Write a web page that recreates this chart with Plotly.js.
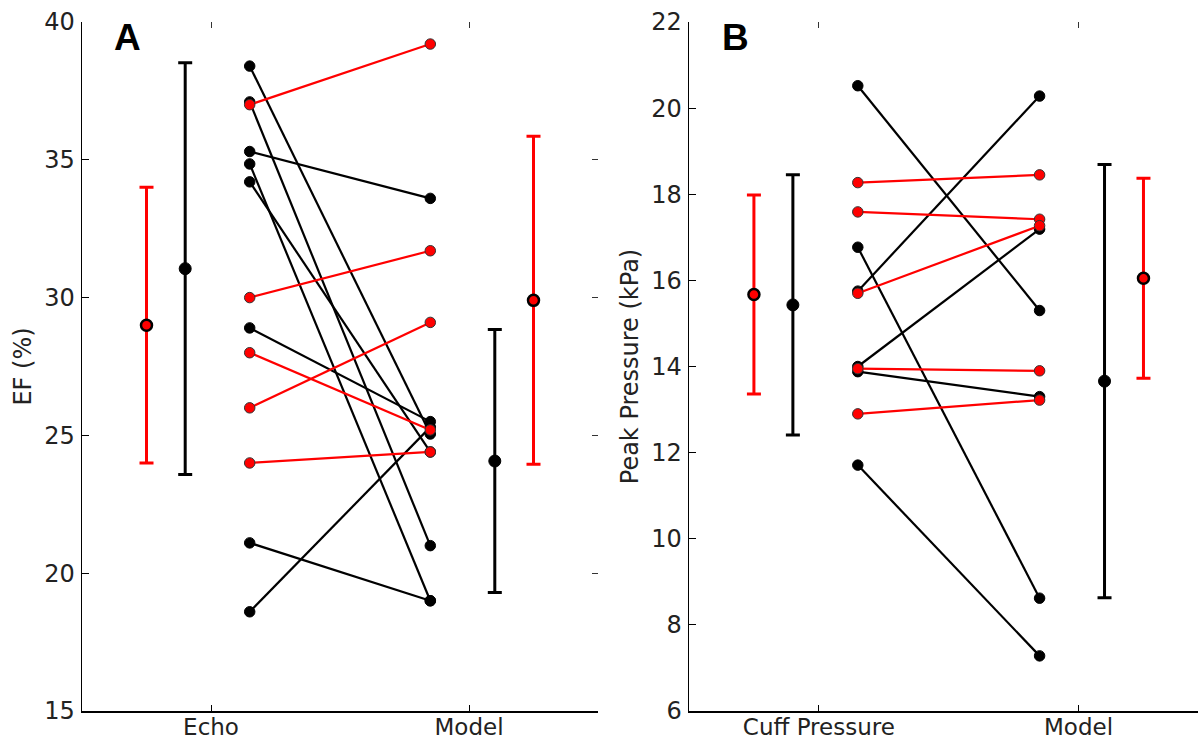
<!DOCTYPE html>
<html><head><meta charset="utf-8">
<script src="https://cdn.plot.ly/plotly-3.0.1.min.js"></script>
<style>html,body{margin:0;padding:0;background:#fff}#chart{width:1198px;height:740px}</style>
</head><body><div id="chart"></div>
<script>
// ---------- Panel A : EF (%) ----------
const categoriesA = ['Echo', 'Model'];
const echoRed     = [37.0, 30.0, 28.0, 26.0, 24.0];
const modelRedA   = [39.2, 31.7, 25.2, 29.1, 24.4];
const echoBlack   = [38.4, 37.1, 35.3, 34.85, 34.2, 28.9, 21.1, 18.6];
const modelBlackA = [25.05, 21.0, 33.6, 19.0, 24.4, 25.5, 19.0, 25.3];
const redMeanA    = [29.0, 29.9];   // Echo, Model
const redErrA     = [5.0, 5.95];
const blackMeanA  = [31.05, 24.07]; // Echo, Model
const blackErrA   = [7.47, 4.77];
const yTicksA     = [15, 20, 25, 30, 35, 40];

// ---------- Panel B : Peak Pressure (kPa) ----------
const categoriesB = ['Cuff Pressure', 'Model'];
const cuffRed     = [18.27, 17.59, 15.70, 13.95, 12.9];
const modelRedB   = [18.45, 17.42, 17.27, 13.90, 13.22];
const cuffBlack   = [20.52, 16.77, 15.75, 14.0, 13.88, 11.71];
const modelBlackB = [15.30, 8.62, 20.28, 17.19, 13.30, 7.28];
const redMeanB    = [15.67, 16.05];
const redErrB     = [2.31, 2.32];
const blackMeanB  = [15.43, 13.66];
const blackErrB   = [3.02, 5.03];
const yTicksB     = [6, 8, 10, 12, 14, 16, 18, 20, 22];

// ---------- geometry / style ----------
const X_LEFT = 1.15, X_RIGHT = 1.85;      // paired points
const X_RED = [0.75, 2.25], X_BLACK = [0.9, 2.1]; // summary bars
const RED = '#ff0000', BLACK = '#000000';
const TICKFONT = {family: 'DejaVu Sans', size: 24, color: '#222'};
const XTICKFONT = {family: 'DejaVu Sans', size: 23, color: '#222'};

const traces = [];
function pairs(a, b, color, xa, ya, isRed) {
  for (let i = 0; i < a.length; i++) {
    traces.push({
      type: 'scatter', mode: 'lines+markers', xaxis: xa, yaxis: ya,
      x: [X_LEFT, X_RIGHT], y: [a[i], b[i]],
      line: {color: color, width: 2.2},
      marker: {size: 10.5, color: color, line: {color: isRed ? '#333' : BLACK, width: 1}},
      showlegend: false, hoverinfo: 'y'
    });
  }
}
function summary(xs, means, errs, isRed, xa, ya) {
  traces.push({
    type: 'scatter', mode: 'markers', xaxis: xa, yaxis: ya,
    x: xs, y: means,
    error_y: {type: 'data', array: errs, visible: true, color: isRed ? RED : BLACK, thickness: 3, width: 7},
    marker: isRed ? {size: 11, color: RED, line: {color: BLACK, width: 2.5}}
                  : {size: 12, color: BLACK, line: {color: BLACK, width: 1}},
    showlegend: false, hoverinfo: 'y'
  });
}

// Panel A
pairs(echoBlack, modelBlackA, BLACK, 'x', 'y', false);
pairs(echoRed, modelRedA, RED, 'x', 'y', true);
summary(X_RED, redMeanA, redErrA, true, 'x', 'y');
summary(X_BLACK, blackMeanA, blackErrA, false, 'x', 'y');
// Panel B
pairs(cuffBlack, modelBlackB, BLACK, 'x2', 'y2', false);
pairs(cuffRed, modelRedB, RED, 'x2', 'y2', true);
summary(X_RED, redMeanB, redErrB, true, 'x2', 'y2');
summary(X_BLACK, blackMeanB, blackErrB, false, 'x2', 'y2');
// carriers for mirrored tick axes (invisible)
traces.push({type: 'scatter', mode: 'markers', xaxis: 'x3', yaxis: 'y3', x: [1], y: [30], marker: {opacity: 0}, hoverinfo: 'skip', showlegend: false});
traces.push({type: 'scatter', mode: 'markers', xaxis: 'x4', yaxis: 'y2', x: [1], y: [14], marker: {opacity: 0}, hoverinfo: 'skip', showlegend: false});

const W = 1198, H = 740;
const rangeA = [0.5, 2.5];
const rangeB = [0.5, 0.5 + 509 / 259.7];
const domA = [82 / W, 598 / W];
const domB = [689 / W, 1];

const baseX = {
  showgrid: false, zeroline: false, showline: true, linecolor: BLACK, linewidth: 1.5,
  ticks: 'inside', ticklen: 6, tickwidth: 1, tickcolor: BLACK,
  tickvals: [1, 2], tickfont: XTICKFONT, ticklabelstandoff: -5, fixedrange: true
};
const baseY = {
  showgrid: false, zeroline: false, showline: true, linecolor: BLACK, linewidth: 1.5,
  ticks: 'inside', ticklen: 7, tickwidth: 1, tickcolor: BLACK,
  tickfont: TICKFONT, ticklabelstandoff: 1, fixedrange: true
};
const mirror = {showgrid: false, zeroline: false, showline: false, ticks: 'inside', ticklen: 6,
  tickwidth: 1, tickcolor: '#333', showticklabels: false, fixedrange: true};

const layout = {
  width: W, height: H,
  margin: {l: 0, r: 0, t: 22, b: 29},
  paper_bgcolor: '#fff', plot_bgcolor: '#fff',
  showlegend: false,
  xaxis: Object.assign({}, baseX, {domain: domA, range: rangeA, ticktext: categoriesA, anchor: 'y'}),
  yaxis: Object.assign({}, baseY, {range: [15, 40], tickvals: yTicksA, anchor: 'x',
    title: {text: 'EF (%)', font: {family: 'DejaVu Sans', size: 24, color: '#222'}, standoff: 6}}),
  xaxis2: Object.assign({}, baseX, {domain: domB, range: rangeB, ticktext: categoriesB, anchor: 'y2'}),
  yaxis2: Object.assign({}, baseY, {range: [6, 22], tickvals: yTicksB, anchor: 'x2',
    title: {text: 'Peak Pressure (kPa)', font: {family: 'DejaVu Sans', size: 24, color: '#222'}, standoff: 6}}),
  xaxis3: Object.assign({}, mirror, {overlaying: 'x', anchor: 'y', side: 'top', range: rangeA, tickvals: [1, 2]}),
  yaxis3: Object.assign({}, mirror, {overlaying: 'y', anchor: 'x', side: 'right', range: [15, 40], tickvals: yTicksA}),
  xaxis4: Object.assign({}, mirror, {overlaying: 'x2', anchor: 'y2', side: 'top', range: rangeB, tickvals: [1, 2]}),
  annotations: [
    {text: '<b>A</b>', xref: 'paper', yref: 'paper', x: 112 / W, y: 1 + 8 / H, xanchor: 'left', yanchor: 'top',
     showarrow: false, font: {family: 'Liberation Sans', size: 37, color: BLACK}},
    {text: '<b>B</b>', xref: 'paper', yref: 'paper', x: 720 / W, y: 1 + 8 / H, xanchor: 'left', yanchor: 'top',
     showarrow: false, font: {family: 'Liberation Sans', size: 37, color: BLACK}}
  ]
};

Plotly.newPlot('chart', traces, layout, {displayModeBar: false, staticPlot: true});
</script>
</body></html>
